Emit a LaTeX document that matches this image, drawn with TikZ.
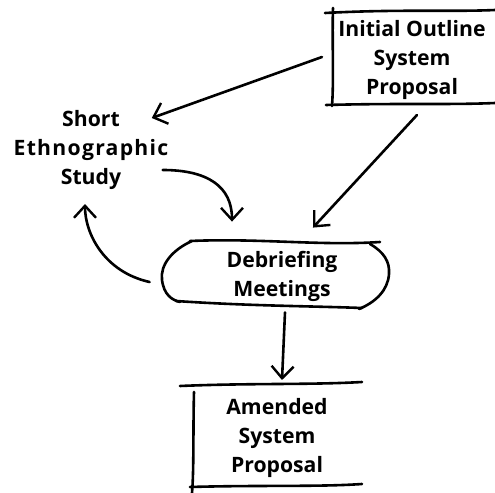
\documentclass[tikz,border=0pt]{standalone}
\usepackage{fontspec}
\setmainfont{Open Sans}
\usetikzlibrary{arrows.meta,calc}
\begin{document}
\begin{tikzpicture}[x=0.5pt,y=-0.5pt,
  pen/.style={line width=1.3pt,line cap=round,line join=round},
  label/.style={font=\bfseries\fontsize{10.6}{14.5}\selectfont,align=center,inner sep=0pt},
  flow/.style={pen,-{Straight Barb[length=6pt,width=11pt,line width=1.2pt]}}]
\useasboundingbox (0,0) rectangle (495,493);

% text blocks
\node[label] (init)   at (412,60)  {Initial Outline\\System\\Proposal};
\node[label] (ethno)  at (91,150) {Short\\{\addfontfeature{LetterSpace=6}Ethnographic}\\Study};
\node[label,minimum width=110pt,minimum height=34pt] (debrief) at (282,276) {Debriefing\\Meetings};
\node[label] (amend)  at (277,438) {Amended\\System\\Proposal};

% sketched box round the initial proposal (right side runs off the sheet)
\draw[pen] (325,13) .. controls (400,9) and (450,12) .. (495,10);
\draw[pen] (333,8) .. controls (332,40) and (334,80) .. (332,106);
\draw[pen] (326,105) .. controls (400,103) and (450,105) .. (495,103);

% sketched box round the amended proposal
\draw[pen] (180,386) .. controls (250,383) and (310,385) .. (362,382);
\draw[pen] (194,392) .. controls (193,430) and (194,470) .. (192,493);
\draw[pen] (190,487) .. controls (260,485) and (320,487) .. (362,484);

% hand-drawn blob round the debriefing meetings
\draw[pen] (190,241) .. controls (260,238) and (320,246) .. (380,242);
\draw[pen] (192,241) .. controls (172,250) and (160,265) .. (162,280)
                     .. controls (164,295) and (172,300) .. (180,302);
\draw[pen] (176,301) .. controls (250,306) and (310,306) .. (362,308);
\draw[pen] (370,244) .. controls (384,252) and (390,262) .. (389,274)
                     .. controls (388,290) and (376,302) .. (359,309);

% connectors
\draw[flow] ([shift={(-16,-3)}]init.west) -- ([shift={(-17,8)}]ethno.north east);
\draw[flow] ([shift={(5,15)}]init.south) -- ([shift={(31,-14)}]debrief.north);
\draw[flow] ([shift={(-6,20)}]ethno.east) .. controls +(45,0) and +(0,-35) .. ([shift={(-50,-20)}]debrief.north);
\draw[flow] ([shift={(-22,6)}]debrief.west) .. controls +(-45,-10) and +(0,30) .. ([shift={(-6,14)}]ethno.south);
\draw[flow] ([shift={(3,2)}]debrief.south) -- ([shift={(5,-18)}]amend.north);
\end{tikzpicture}
\end{document}
